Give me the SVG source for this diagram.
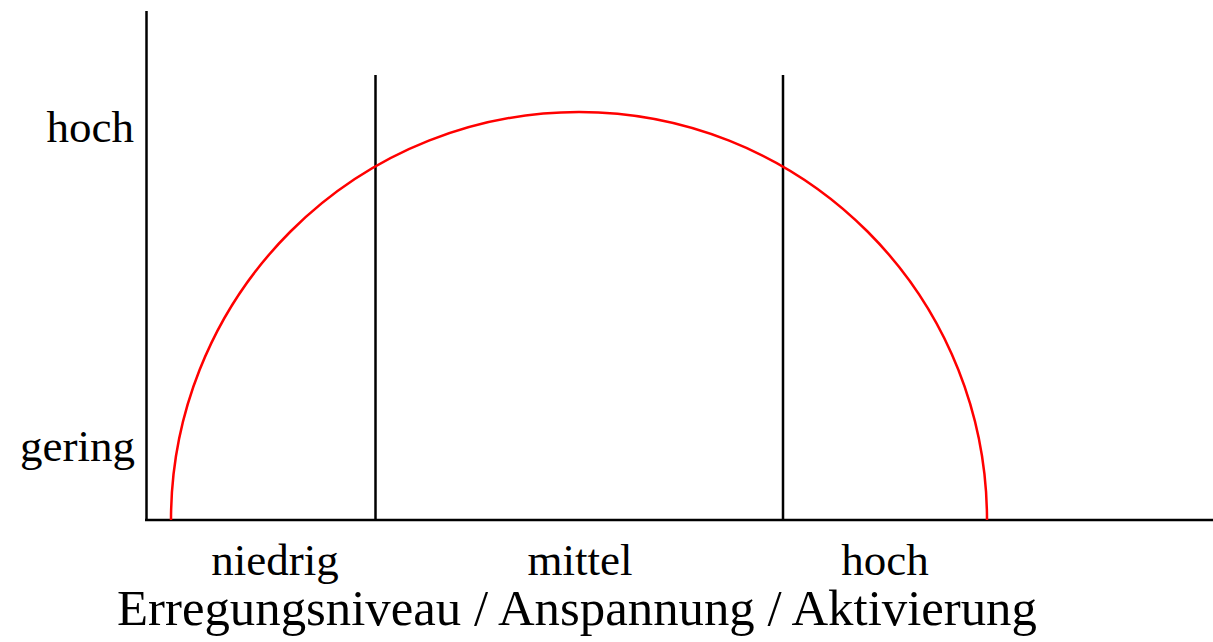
<svg xmlns="http://www.w3.org/2000/svg" width="1213" height="642" viewBox="0 0 1213 642">
<style>
.ax{stroke:#000;stroke-width:2.5;fill:none}
.curve{stroke:#f00;stroke-width:2.5;fill:none}
.lbl{font-family:"Liberation Serif","Times New Roman",serif;font-size:45px;fill:#000}
.title{font-family:"Liberation Serif","Times New Roman",serif;font-size:50.8px;fill:#000}
</style>
<rect width="1213" height="642" fill="#fff"/>
<g id="connectors">
<line class="ax" x1="146.5" y1="11" x2="146.5" y2="521"/>
<line class="ax" x1="145" y1="520" x2="1213" y2="520"/>
<line class="ax" x1="375.5" y1="75" x2="375.5" y2="520"/>
<line class="ax" x1="783" y1="75" x2="783" y2="520"/>
</g>
<g id="curve">
<path class="curve" d="M171,520 A408,408 0 0 1 987,520"/>
</g>
<g id="y-labels">
<text class="lbl" x="134" y="142" text-anchor="end">hoch</text>
<text class="lbl" x="135" y="461" text-anchor="end">gering</text>
</g>
<g id="x-labels">
<text class="lbl" x="275" y="575" text-anchor="middle">niedrig</text>
<text class="lbl" x="580" y="575" text-anchor="middle">mittel</text>
<text class="lbl" x="885" y="575" text-anchor="middle">hoch</text>
<text class="title" x="577" y="625" text-anchor="middle">Erregungsniveau / Anspannung / Aktivierung</text>
</g>
</svg>
